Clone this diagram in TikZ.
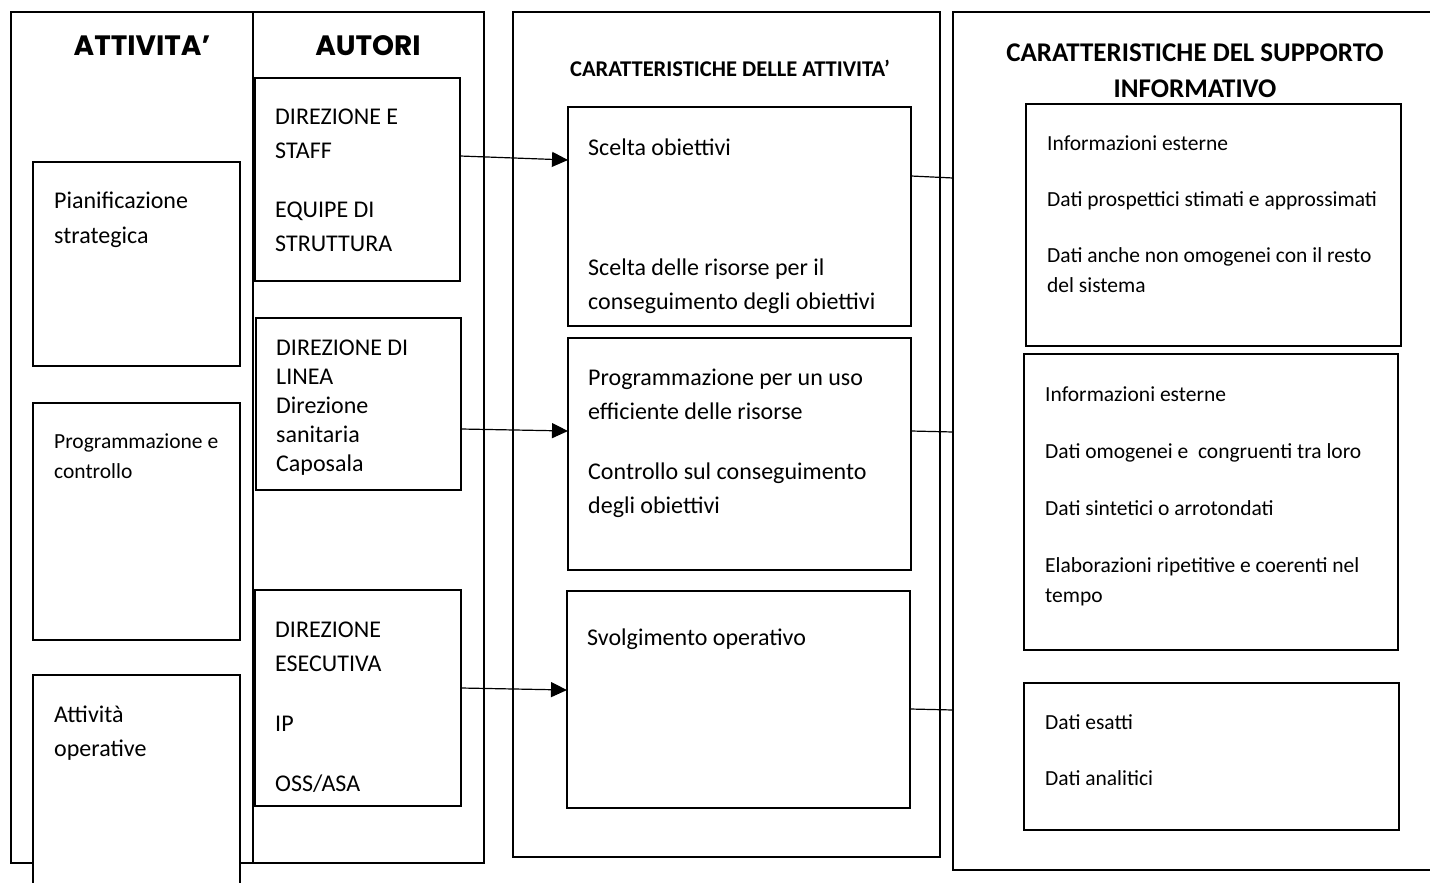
\documentclass[tikz,border=0pt]{standalone}
\usepackage{fontspec}
\setmainfont{Carlito}
\newfontfamily\headfont{Poppins}
\usetikzlibrary{positioning,arrows.meta}

\tikzset{
  colbox/.style={draw,line width=1.5pt,inner sep=0pt,outer sep=0pt},
  box/.style={draw,line width=1.5pt,fill=white,inner sep=0pt,outer sep=0pt},
  txt/.style={align=left,inner sep=0pt,anchor=north west,
    execute at begin node=\strut},
  big/.style={txt,font=\fontsize{24}{34}\selectfont},
  small/.style={txt,font=\fontsize{21.5}{30}\selectfont},
  head/.style={font=\headfont\bfseries\fontsize{28}{30}\selectfont,inner sep=0pt},
  subhead/.style={font=\bfseries\fontsize{27}{36}\selectfont,align=center,inner sep=0pt},
  arr/.style={line width=1.2pt,-{Triangle[length=16pt,width=15pt]}},
  link/.style={line width=1.2pt}
}

\begin{document}
\begin{tikzpicture}[x=1pt,y=-1pt]
      \useasboundingbox (0,0) rectangle (1430,883) ;
      % columns
      \node[colbox,minimum width=242pt,minimum height=851pt] (col1) at (132,437.5) {} ;
      \node[colbox,minimum width=231pt,minimum height=851pt] (col2) at (368.5,437.5) {} ;
      \node[colbox,minimum width=427pt,minimum height=845pt] (col3) at (726.5,434.5) {} ;
      \node[colbox,minimum width=492pt,minimum height=858pt] (col4) at (1199,441) {} ;
      % headings
      \node[head] (hAtt) at (142,46) {ATTIVITA’} ;
      \node[head] (hAut) at (368,46) {AUTORI} ;
      \node[font=\bfseries\fontsize{22.5}{24}\selectfont,inner sep=0pt] (hCar) at (730,68)
        {CARATTERISTICHE DELLE ATTIVITA’} ;
      \node[subhead] (hSup) at (1195,71) {CARATTERISTICHE DEL SUPPORTO\\INFORMATIVO} ;
      % activities
      \node[box,minimum width=207pt,minimum height=204pt] (A1) at (136.5,264) {} ;
      \node[box,minimum width=207pt,minimum height=237pt] (A2) at (136.5,521.5) {} ;
      \node[box,minimum width=207pt,minimum height=225pt] (A3) at (136.5,787.5) {} ;
      \node[big,font=\fontsize{24}{35}\selectfont,below right=30pt and 21pt of A1.north west] (tA1)
        {Pianificazione\\strategica} ;
      \node[small,below right=31pt and 21pt of A2.north west] (tA2) {Programmazione e\\controllo} ;
      \node[big,below right=30.5pt and 21pt of A3.north west] (tA3) {Attività\\operative} ;
      % authors
      \node[box,minimum width=205pt,minimum height=203pt] (B1) at (357.5,179.5) {} ;
      \node[box,minimum width=205pt,minimum height=172pt] (B2) at (358.5,404) {} ;
      \node[box,minimum width=206pt,minimum height=216pt] (B3) at (358,698) {} ;
      \node[big,below right=31pt and 20pt of B1.north west] (tB1)
        {DIREZIONE E\\STAFF\\[25pt]EQUIPE DI\\STRUTTURA} ;
      \node[big,font=\fontsize{24}{29}\selectfont,below right=21.5pt and 20pt of B2.north west] (tB2)
        {DIREZIONE DI\\LINEA\\Direzione\\sanitaria\\Caposala} ;
      \node[big,below right=32pt and 20pt of B3.north west] (tB3)
        {DIREZIONE\\ESECUTIVA\\[26pt]IP\\[26pt]OSS/ASA} ;
      % characteristics of the activities
      \node[box,minimum width=343pt,minimum height=219pt] (C1) at (739.5,216.5) {} ;
      \node[box,minimum width=343pt,minimum height=232pt] (C2) at (739.5,454) {} ;
      \node[box,minimum width=343pt,minimum height=217pt] (C3) at (738.5,699.5) {} ;
      \node[big,below right=31.5pt and 20pt of C1.north west] (tC1)
        {Scelta obiettivi\\[86pt]Scelta delle risorse per il\\conseguimento degli obiettivi} ;
      \node[big,below right=30.5pt and 20pt of C2.north west] (tC2)
        {Programmazione per un uso\\efficiente delle risorse\\[26pt]Controllo sul conseguimento\\degli obiettivi} ;
      \node[big,below right=30.5pt and 20pt of C3.north west] (tC3) {Svolgimento operativo} ;
      % information support
      \node[box,minimum width=375pt,minimum height=242pt] (D1) at (1213.5,225) {} ;
      \node[box,minimum width=374pt,minimum height=296pt] (D2) at (1211,502) {} ;
      \node[box,minimum width=375pt,minimum height=147pt] (D3) at (1211.5,756.5) {} ;
      \node[small,below right=31.5pt and 21pt of D1.north west] (tD1)
        {Informazioni esterne\\[26pt]Dati prospettici stimati e approssimati\\[26pt]Dati anche non omogenei con il resto\\del sistema} ;
      \node[small,below right=32.5pt and 21pt of D2.north west] (tD2)
        {Informazioni esterne\\[27pt]Dati omogenei e \ congruenti tra loro\\[27pt]Dati sintetici o arrotondati\\[27pt]Elaborazioni ripetitive e coerenti nel\\tempo} ;
      \node[small,below right=31.5pt and 21pt of D3.north west] (tD3)
        {Dati esatti\\[26pt]Dati analitici} ;
      % connectors
      \draw[arr] ([yshift=23.5pt]B1.east) -- ([yshift=56.5pt]C1.west) ;
      \draw[arr] ([yshift=-25pt]B2.east) -- ([yshift=23pt]C2.west) ;
      \draw[arr] ([yshift=10pt]B3.east) -- ([yshift=9.5pt]C3.west) ;
      \draw[link] ([yshift=40.5pt]C1.east) -- ([yshift=263pt]col4.west) ;
      \draw[link] ([yshift=23pt]C2.east) -- ([yshift=9pt]col4.west) ;
      \draw[link] ([yshift=-9.5pt]C3.east) -- ([yshift=-269pt]col4.west) ;
    \end{tikzpicture}
\end{document}
